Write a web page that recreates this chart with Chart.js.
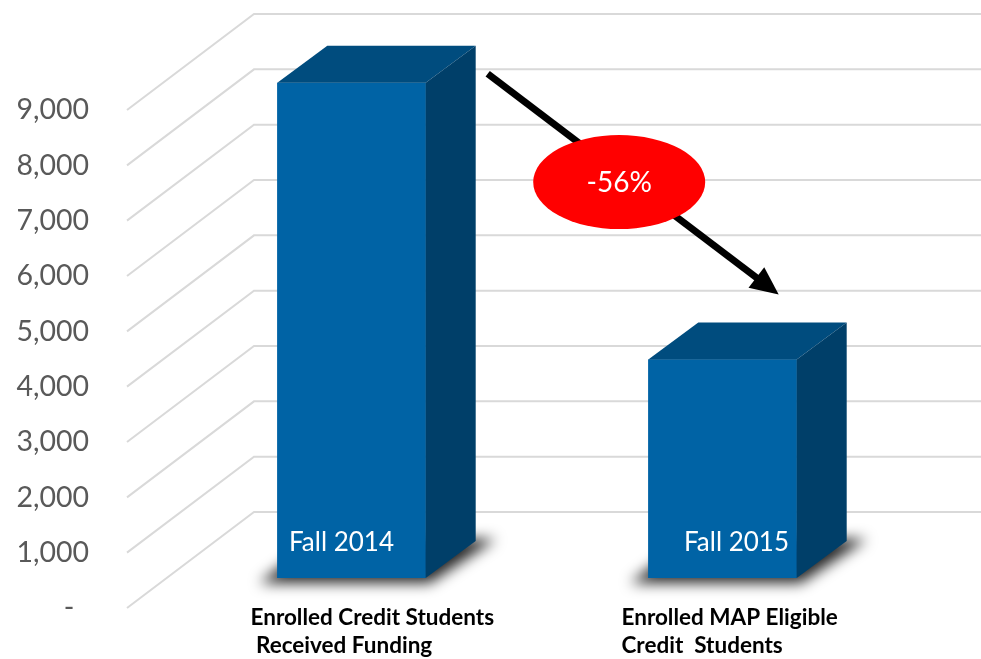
<!DOCTYPE html>
<html>
<head>
<meta charset="utf-8">
<script src="https://cdn.jsdelivr.net/npm/chart.js@4.4.1/dist/chart.umd.min.js"></script>
<style>
  html, body { margin: 0; padding: 0; background: #fff; }
  #wrap { width: 981px; height: 659px; }
</style>
</head>
<body>
<div id="wrap"><canvas id="chart1" width="981" height="659"></canvas></div>
<script>
const categories = [["Enrolled Credit Students", " Received Funding"], ["Enrolled MAP Eligible", "Credit  Students"]]
const terms = ["Fall 2014", "Fall 2015"]
const students = [8950, 3950]
const y_max = 9000
const y_step = 1000

const front_color = "#0063a5"
const top_color = "#004c7e"
const side_color = "#003f69"
const grid_color = "#d9d9d9"
const font_name = "Lato"
const depth_x = 50, depth_y = 37      // depth of the 3d bars
const wall_x = 127, wall_y = 96       // depth of the floor, for the slanted grid lines
const floor_shift = 30                // bars stand this far behind the front edge
const term_shift = [-10, 14]          // the in-bar labels are not quite centred

function fmt_tick(v){
    if (v == 0) return "-  "
    return v.toLocaleString("en-US")
}

function draw_grid(chart){
    var ctx = chart.ctx
    var yscale = chart.scales.y
    var x0 = chart.chartArea.left - 39
    ctx.save()
    ctx.strokeStyle = grid_color
    ctx.lineWidth = 2
    for (var v = 0; v <= y_max; v += y_step){
        var yf = yscale.getPixelForValue(v) + floor_shift
        ctx.beginPath()
        ctx.moveTo(x0, yf)
        ctx.lineTo(x0 + wall_x, yf - wall_y)
        ctx.lineTo(chart.width, yf - wall_y)
        ctx.stroke()
    }
    ctx.restore()
}

function draw_shadows(chart){
    var ctx = chart.ctx
    chart.getDatasetMeta(0).data.forEach((bar => {
        var l = bar.x - bar.width/2, r = bar.x + bar.width/2, b = bar.base
        ctx.save()
        ctx.filter = "blur(7px)"
        ctx.fillStyle = "rgba(0,0,0,0.85)"
        ctx.beginPath()
        ctx.moveTo(l - 18, b + 5)
        ctx.lineTo(r + 4, b + 5)
        ctx.lineTo(r + depth_x + 20, b - depth_y - 2)
        ctx.lineTo(l + depth_x - 10, b - depth_y - 2)
        ctx.closePath()
        ctx.fill()
        ctx.restore()
    }))
}

function draw_3d(chart){
    var ctx = chart.ctx
    chart.getDatasetMeta(0).data.forEach(((bar, i) => {
        var l = bar.x - bar.width/2, r = bar.x + bar.width/2, t = bar.y, b = bar.base
        ctx.save()
        // front again so the shadow never shows through
        ctx.fillStyle = front_color
        ctx.fillRect(l, t, r - l, b - t)
        // top
        ctx.fillStyle = top_color
        ctx.beginPath()
        ctx.moveTo(l, t)
        ctx.lineTo(l + depth_x, t - depth_y)
        ctx.lineTo(r + depth_x, t - depth_y)
        ctx.lineTo(r, t)
        ctx.closePath()
        ctx.fill()
        // side
        ctx.fillStyle = side_color
        ctx.beginPath()
        ctx.moveTo(r, t)
        ctx.lineTo(r + depth_x, t - depth_y)
        ctx.lineTo(r + depth_x, b - depth_y)
        ctx.lineTo(r, b)
        ctx.closePath()
        ctx.fill()
        // term label inside the bar
        ctx.fillStyle = "#ffffff"
        ctx.font = "26px " + font_name
        ctx.textAlign = "center"
        ctx.textBaseline = "middle"
        ctx.fillText(terms[i], bar.x + term_shift[i], b - 35)
        ctx.restore()
    }))
}

function draw_change(chart){
    var ctx = chart.ctx
    var bars = chart.getDatasetMeta(0).data
    var a = bars[0], b = bars[1]
    var x1 = a.x + a.width/2 + 62, y1 = a.y - 9
    var x2 = b.x + b.width/2 - 18, y2 = b.y - 65
    var ang = Math.atan2(y2 - y1, x2 - x1)
    var head = 28, half = 13
    ctx.save()
    ctx.strokeStyle = "#000000"
    ctx.fillStyle = "#000000"
    ctx.lineWidth = 7
    ctx.beginPath()
    ctx.moveTo(x1, y1)
    ctx.lineTo(x2 - (head - 4) * Math.cos(ang), y2 - (head - 4) * Math.sin(ang))
    ctx.stroke()
    ctx.beginPath()
    ctx.moveTo(x2, y2)
    ctx.lineTo(x2 - head * Math.cos(ang) + half * Math.sin(ang), y2 - head * Math.sin(ang) - half * Math.cos(ang))
    ctx.lineTo(x2 - head * Math.cos(ang) - half * Math.sin(ang), y2 - head * Math.sin(ang) + half * Math.cos(ang))
    ctx.closePath()
    ctx.fill()

    var cx = (x1 + x2)/2 - 14, cy = (y1 + y2)/2 - 2
    ctx.fillStyle = "#ff0000"
    ctx.beginPath()
    ctx.ellipse(cx, cy, 86, 47, 0, 0, Math.PI * 2)
    ctx.fill()
    var pct = Math.round((students[1] - students[0]) / students[0] * 100)
    ctx.fillStyle = "#ffffff"
    ctx.font = "28px " + font_name
    ctx.textAlign = "center"
    ctx.textBaseline = "middle"
    ctx.fillText(pct + "%", cx, cy + 1)
    ctx.restore()
}

const bars3d = {
    id: "bars3d",
    beforeDatasetsDraw(chart){
        draw_grid(chart)
        draw_shadows(chart)
    },
    afterDatasetsDraw(chart){
        draw_3d(chart)
        draw_change(chart)
    }
}

var ctx1 = document.getElementById("chart1")
const myChart = new Chart(ctx1, {
    type: 'bar',
    data: {
        labels: categories,
        datasets: [{
            data: students,
            backgroundColor: front_color,
            borderWidth: 0,
            barPercentage: 0.4,
            categoryPercentage: 1
        }]
    },
    options: {
        responsive: false,
        animation: false,
        devicePixelRatio: 1,
        layout: {
            padding: {top: 80, right: 73, bottom: 0, left: 0}
        },
        scales: {
            x: {
                grid: {display: false, drawTicks: false},
                border: {display: false},
                afterFit: (s) => { s.height = 81; s.paddingLeft = 0; s.paddingRight = 0 },
                ticks: {
                    color: "#000000",
                    font: {family: font_name, size: 22.5, weight: "bold", lineHeight: "28px"},
                    padding: 26,
                    align: "start",
                    labelOffset: -101,
                    maxRotation: 0,
                    autoSkip: false
                }
            },
            y: {
                min: 0,
                max: y_max,
                grid: {display: false, drawTicks: false},
                border: {display: false},
                afterFit: (s) => { s.width = 166; s.paddingTop = 0; s.paddingBottom = 0 },
                ticks: {
                    stepSize: y_step,
                    color: "#595959",
                    font: {family: font_name, size: 28.5},
                    padding: 77,
                    labelOffset: floor_shift,
                    callback: fmt_tick
                }
            }
        },
        plugins: {
            legend: {display: false},
            tooltip: {enabled: false}
        }
    },
    plugins: [bars3d]
})
</script>
</body>
</html>
